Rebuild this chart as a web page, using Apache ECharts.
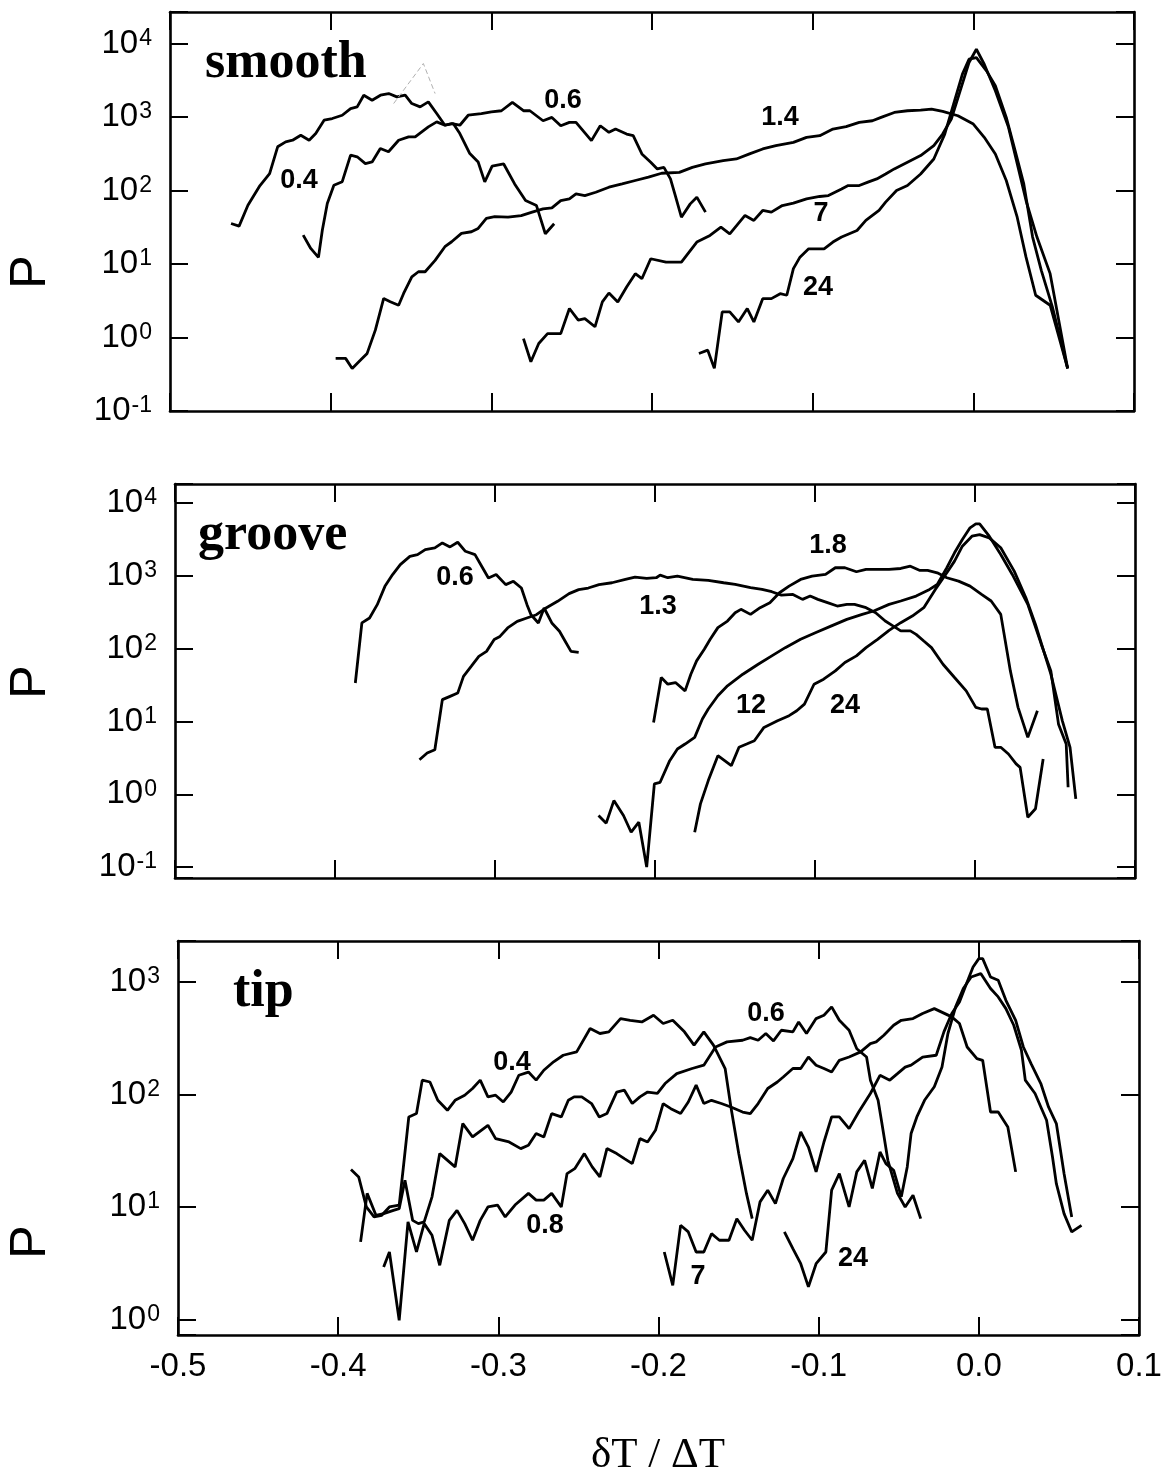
<!DOCTYPE html>
<html>
<head>
<meta charset="utf-8">
<script src="https://cdn.jsdelivr.net/npm/echarts@6/dist/echarts.min.js"></script>
<style>
  html, body { margin: 0; padding: 0; background: #fff; }
  #chart { width: 1167px; height: 1479px; }
</style>
</head>
<body>
<div id="chart"></div>
<script>
// Distributions P of the temperature deviation dT/DT for three surface
// types (smooth, groove, tip); each curve is one value of the control parameter.

const X_TICK_VALUES = [-0.5, -0.4, -0.3, -0.2, -0.1, 0.0, 0.1];

// ---------- smooth ----------
const smooth_04 = [[-0.462,35.6],[-0.457,32.8],[-0.4515,63.1],[-0.444,117],[-0.438,170],[-0.433,394],[-0.428,460],[-0.4237,484],[-0.4186,566],[-0.4134,484],[-0.4093,597],[-0.4041,906],[-0.399,955],[-0.3928,1059],[-0.3876,1306],[-0.3835,1377],[-0.3794,1982],[-0.3742,1694],[-0.369,1982],[-0.3639,2089],[-0.3588,1884],[-0.3536,1982],[-0.3495,1528],[-0.3443,1377],[-0.3392,1611],[-0.334,1117],[-0.3289,774],[-0.3237,817],[-0.3196,597],[-0.3134,319],[-0.3082,245],[-0.3041,131],[-0.2995,215],[-0.2923,230],[-0.2855,123],[-0.2787,73.1],[-0.2719,62.5],[-0.2664,25.8],[-0.2609,35.3]];
const smooth_06 = [[-0.4171,24.7],[-0.4124,16.3],[-0.4076,12.3],[-0.4052,28.8],[-0.4021,66.7],[-0.398,118],[-0.3928,132],[-0.3876,303],[-0.3835,288],[-0.3784,233],[-0.3742,245],[-0.3691,373],[-0.364,337],[-0.3577,484],[-0.3515,538],[-0.3474,538],[-0.3392,736],[-0.334,861],[-0.3289,774],[-0.3247,817],[-0.3196,774],[-0.3144,1059],[-0.3062,1117],[-0.3,1175],[-0.2937,1219],[-0.2869,1581],[-0.28,1219],[-0.276,1219],[-0.2678,891],[-0.2623,989],[-0.2568,762],[-0.2514,847],[-0.2473,847],[-0.2377,478],[-0.2322,762],[-0.2268,619],[-0.2227,687],[-0.2158,587],[-0.2117,558],[-0.2063,315],[-0.2008,243],[-0.1967,197],[-0.1926,207],[-0.1885,144],[-0.1858,90.2],[-0.1817,43.4],[-0.1762,65.9],[-0.1721,81.3],[-0.1667,50.8]];
const smooth_14 = [[-0.3969,0.52],[-0.3907,0.52],[-0.3866,0.38],[-0.3814,0.493],[-0.3773,0.608],[-0.3722,1.26],[-0.367,3.4],[-0.3629,3.07],[-0.3577,2.75],[-0.3546,3.98],[-0.3495,6.71],[-0.3454,7.85],[-0.3412,7.85],[-0.335,11.2],[-0.3289,17.2],[-0.3247,20.1],[-0.3186,26.1],[-0.3124,27.5],[-0.3082,30.5],[-0.3031,41.7],[-0.2979,44.1],[-0.2896,43.4],[-0.2814,45.7],[-0.2746,50.8],[-0.2678,56.4],[-0.2623,58.2],[-0.2568,73.1],[-0.2514,77.1],[-0.2473,90.2],[-0.2418,85.5],[-0.235,94.8],[-0.2268,111],[-0.2186,123],[-0.2104,137],[-0.2022,152],[-0.194,172],[-0.183,177],[-0.1749,207],[-0.1667,230],[-0.1557,255],[-0.1475,269],[-0.1393,315],[-0.1311,368],[-0.1229,408],[-0.112,453],[-0.1038,530],[-0.0956,558],[-0.0874,687],[-0.0792,740],[-0.071,847],[-0.0628,891],[-0.0574,989],[-0.0492,1156],[-0.041,1219],[-0.0328,1245],[-0.026,1285],[-0.0191,1194],[-0.0096,1042],[0.0,804],[0.0068,530],[0.0137,315],[0.0205,137],[0.0273,43.4],[0.0328,12.4],[0.0388,3.76],[0.0478,2.75],[0.0587,0.38]];
const smooth_7 = [[-0.28,0.968],[-0.2754,0.468],[-0.2705,0.83],[-0.265,1.13],[-0.2568,1.13],[-0.2514,2.48],[-0.2459,1.72],[-0.2418,1.81],[-0.2355,1.40],[-0.2309,3.05],[-0.2268,4.04],[-0.2213,3.05],[-0.2158,4.88],[-0.2104,7.4],[-0.2063,6.31],[-0.2008,11.8],[-0.1913,10.6],[-0.1817,10.6],[-0.1721,19.9],[-0.1639,24.5],[-0.1571,31.8],[-0.1516,25.8],[-0.1421,45.8],[-0.1366,39.2],[-0.1311,53.6],[-0.1257,50.8],[-0.1189,62.5],[-0.112,67.3],[-0.1038,77.1],[-0.0956,83],[-0.0902,85.5],[-0.082,105],[-0.0779,117],[-0.071,117],[-0.0656,130],[-0.0601,144],[-0.0546,168],[-0.0492,197],[-0.041,243],[-0.0328,299],[-0.0246,408],[-0.0191,587],[-0.0137,940],[-0.0082,2275],[-0.0027,5521],[0.0019,8375],[0.0068,5236],[0.0137,2275],[0.0219,724],[0.0328,73.1],[0.0396,23.3],[0.0478,7.4],[0.0587,0.38]];
const smooth_24 = [[-0.1708,0.607],[-0.1653,0.673],[-0.1612,0.38],[-0.1563,2.23],[-0.1516,2.23],[-0.1462,1.63],[-0.1407,2.48],[-0.1366,1.63],[-0.1311,3.38],[-0.1257,3.38],[-0.1202,3.95],[-0.1161,3.76],[-0.112,8.65],[-0.1079,12.4],[-0.1025,16.1],[-0.0929,16.1],[-0.0874,19.9],[-0.082,23.3],[-0.0724,28.6],[-0.0669,39.2],[-0.0587,53.6],[-0.0546,69.5],[-0.0478,100],[-0.041,117],[-0.0328,168],[-0.0246,269],[-0.0178,587],[-0.0123,1500],[-0.0068,3837],[-0.0027,6124],[0.0019,6457],[0.0082,4256],[0.0137,2661],[0.0205,989],[0.026,349],[0.0314,123],[0.0369,23.3],[0.0423,8.2],[0.0492,2.61],[0.0587,0.38]];
const smooth_faint = [[-0.3608,1528],[-0.3423,5350],[-0.335,2090]];

// ---------- groove ----------
const groove_06 = [[-0.3873,33.7],[-0.3832,225],[-0.3784,263],[-0.3736,401],[-0.3688,716],[-0.364,1038],[-0.3592,1422],[-0.3532,1849],[-0.3484,1950],[-0.3436,2286],[-0.3376,2410],[-0.3329,2825],[-0.3281,2489],[-0.3233,2884],[-0.3185,2168],[-0.3125,1950],[-0.3077,1279],[-0.3041,933],[-0.2993,1038],[-0.2933,755],[-0.2885,839],[-0.2835,679],[-0.28,401],[-0.2775,292],[-0.2729,225],[-0.2693,361],[-0.2645,225],[-0.2597,173],[-0.2573,140],[-0.2525,91.6],[-0.2477,88.9]];
const groove_13 = [[-0.3472,2.98],[-0.3424,3.68],[-0.3376,4.09],[-0.3329,19.9],[-0.3281,22.1],[-0.3233,24.5],[-0.3197,41.6],[-0.3149,57],[-0.3101,78.3],[-0.3053,91.6],[-0.3005,133],[-0.2969,147],[-0.2921,192],[-0.2861,237],[-0.2801,263],[-0.2741,292],[-0.2681,361],[-0.2609,446],[-0.2537,569],[-0.2477,646],[-0.2417,679],[-0.235,755],[-0.2269,802],[-0.2185,891],[-0.2125,959],[-0.2052,918],[-0.1992,940],[-0.1968,1021],[-0.192,940],[-0.186,989],[-0.1764,891],[-0.1667,863],[-0.1571,802],[-0.1499,760],[-0.1403,685],[-0.1331,650],[-0.127,604],[-0.121,543],[-0.1138,555],[-0.1078,474],[-0.103,526],[-0.0982,474],[-0.0922,427],[-0.0861,384],[-0.0801,405],[-0.0753,405],[-0.0681,365],[-0.0621,311],[-0.0561,239],[-0.0513,205],[-0.0464,175],[-0.0404,175],[-0.0368,157],[-0.032,127],[-0.0272,103],[-0.02,61],[-0.0128,40.1],[-0.0055,26.3],[0.0005,15.6],[0.0041,14.8],[0.0077,14.8],[0.0125,4.41],[0.0161,4.41],[0.0209,3.57],[0.0257,2.61],[0.0282,2.34],[0.033,0.484],[0.0378,0.631],[0.0426,3.05]];
const groove_18 = [[-0.2009,9.68],[-0.1961,40.1],[-0.192,32.4],[-0.1872,34.2],[-0.1812,26.3],[-0.1776,44.5],[-0.174,67.8],[-0.1692,98],[-0.1655,134],[-0.1607,194],[-0.1547,239],[-0.1499,311],[-0.1463,346],[-0.1403,295],[-0.1343,365],[-0.1282,427],[-0.1222,585],[-0.1162,721],[-0.109,891],[-0.1018,989],[-0.0934,1042],[-0.0873,1288],[-0.0813,1288],[-0.0741,1135],[-0.0681,1222],[-0.0609,1222],[-0.0537,1222],[-0.0464,1259],[-0.0404,1355],[-0.0344,1183],[-0.0296,1183],[-0.0236,1099],[-0.0176,940],[-0.0103,845],[-0.0031,721],[0.0041,555],[0.0101,450],[0.0161,295],[0.0221,49.4],[0.0269,15.6],[0.033,6.04],[0.039,14]];
const groove_12 = [[-0.2353,0.511],[-0.2305,0.401],[-0.2257,0.818],[-0.2197,0.511],[-0.2149,0.301],[-0.2101,0.413],[-0.2052,0.1],[-0.2004,1.39],[-0.1968,1.46],[-0.1908,2.89],[-0.186,4.18],[-0.1812,4.89],[-0.1752,6.04],[-0.1704,10.8],[-0.1667,14.8],[-0.1607,22.5],[-0.1547,30.8],[-0.1451,44.5],[-0.1355,61],[-0.127,79.4],[-0.1186,103],[-0.109,134],[-0.0994,166],[-0.0897,205],[-0.0801,252],[-0.0705,295],[-0.0633,328],[-0.0537,405],[-0.0464,450],[-0.0368,526],[-0.0284,650],[-0.0236,760],[-0.0176,1288],[-0.0128,2065],[-0.0079,3148],[-0.0031,4550],[0.0005,5152],[0.0029,5152],[0.0089,3491],[0.0161,1959],[0.0233,1042],[0.033,405],[0.0414,115],[0.0474,49.4],[0.0522,9.18],[0.057,4.89],[0.0582,1.25]];
const groove_24 = [[-0.1752,0.301],[-0.1716,0.738],[-0.1667,1.54],[-0.1607,3.39],[-0.1523,2.47],[-0.1475,4.41],[-0.1427,4.89],[-0.1379,5.43],[-0.1319,8.28],[-0.1234,10.2],[-0.1162,12],[-0.1114,14],[-0.1066,17.3],[-0.1006,32.4],[-0.0946,38],[-0.0873,49.4],[-0.0813,64.3],[-0.0741,79.4],[-0.0681,103],[-0.0609,134],[-0.0537,178],[-0.0464,227],[-0.0392,280],[-0.032,365],[-0.0248,650],[-0.0176,1099],[-0.0128,1589],[-0.0079,2547],[-0.0019,3491],[0.0029,3681],[0.0089,3319],[0.0161,2421],[0.0245,1159],[0.0318,500],[0.0378,215],[0.0474,44.5],[0.0546,10.2],[0.0594,4.41],[0.063,0.863]];

// ---------- tip ----------
const tip_04 = [[-0.392,21.5],[-0.3872,18.5],[-0.3824,10],[-0.3776,8.15],[-0.3728,8.43],[-0.368,10],[-0.3619,10.4],[-0.3595,21.2],[-0.3559,63.1],[-0.3511,67.6],[-0.3475,134],[-0.3427,129],[-0.3378,88.7],[-0.3318,72.3],[-0.327,88.7],[-0.321,98.4],[-0.3161,113],[-0.3113,134],[-0.3065,95.1],[-0.3017,98.4],[-0.2969,85.7],[-0.292,105],[-0.2872,148],[-0.2812,158],[-0.2764,134],[-0.2716,164],[-0.2655,195],[-0.2595,223],[-0.2511,239],[-0.2427,385],[-0.2366,348],[-0.231,360],[-0.2237,472],[-0.2177,456],[-0.2104,441],[-0.2031,506],[-0.1971,427],[-0.1911,456],[-0.1838,360],[-0.1778,274],[-0.1717,360],[-0.1657,274],[-0.1584,170],[-0.1548,77.4],[-0.1499,29.8],[-0.1451,13.2],[-0.1415,7.87]];
const tip_06 = [[-0.386,4.89],[-0.3819,13.2],[-0.3764,8.43],[-0.3716,8.73],[-0.3655,9.33],[-0.3619,9.66],[-0.3583,17.3],[-0.3535,7.6],[-0.3499,7.11],[-0.3463,7.36],[-0.3414,12.3],[-0.3366,29.8],[-0.327,22.7],[-0.3222,55.1],[-0.3161,41.9],[-0.3065,53.2],[-0.3017,40.5],[-0.2933,37.8],[-0.286,33],[-0.2812,35.3],[-0.2764,44.9],[-0.2716,41.9],[-0.2667,67.6],[-0.2607,63.1],[-0.2563,88.7],[-0.2527,95.1],[-0.2479,95.1],[-0.2418,83],[-0.237,63.1],[-0.2322,67.6],[-0.2261,105],[-0.2213,109],[-0.2164,83],[-0.2116,95.1],[-0.2068,105],[-0.2007,102],[-0.1959,125],[-0.1886,153],[-0.179,170],[-0.1717,182],[-0.1644,264],[-0.1572,293],[-0.1475,303],[-0.1427,320],[-0.1378,303],[-0.133,348],[-0.1282,299],[-0.1233,372],[-0.1161,360],[-0.1125,441],[-0.1076,348],[-0.1016,472],[-0.0967,506],[-0.0919,600],[-0.0871,456],[-0.081,372],[-0.0762,255],[-0.0701,215],[-0.0677,134],[-0.0629,88.7],[-0.0605,55.1],[-0.0568,26],[-0.0508,13.2],[-0.046,10],[-0.0411,12.7],[-0.0363,7.87]];
const tip_08 = [[-0.3716,2.93],[-0.368,3.98],[-0.3619,0.984],[-0.3564,7.36],[-0.3511,3.98],[-0.3463,7.11],[-0.3414,5.6],[-0.3366,3.03],[-0.3306,7.6],[-0.3258,9.33],[-0.321,7.11],[-0.3161,5.06],[-0.3113,7.6],[-0.3065,10],[-0.3005,10.4],[-0.2957,8.15],[-0.2896,10.4],[-0.2812,13.2],[-0.2764,11.5],[-0.2716,11.5],[-0.2667,13.2],[-0.2607,10],[-0.2571,19.8],[-0.2523,21.9],[-0.2463,29.8],[-0.2414,22.7],[-0.2366,18.5],[-0.2322,33],[-0.2261,29.8],[-0.2213,26.9],[-0.2164,24.3],[-0.2116,40.5],[-0.2068,37.8],[-0.2019,48],[-0.1971,83],[-0.1923,74.8],[-0.1862,67.6],[-0.1814,85.7],[-0.1765,121],[-0.1717,83],[-0.1669,88.7],[-0.1608,83],[-0.1548,77.4],[-0.1475,69.8],[-0.1427,67.6],[-0.1378,83],[-0.1318,113],[-0.1258,129],[-0.1221,143],[-0.1161,170],[-0.1112,170],[-0.1064,215],[-0.1016,182],[-0.0967,170],[-0.0919,158],[-0.0871,201],[-0.081,215],[-0.0738,239],[-0.0677,283],[-0.0641,293],[-0.0593,336],[-0.0532,412],[-0.0484,456],[-0.0411,472],[-0.0351,524],[-0.0278,579],[-0.0169,489],[-0.0121,427],[-0.0073,264],[-0.0012,208],[0.0024,201],[0.0073,69.8],[0.0121,69.8],[0.0181,51.4],[0.023,20.5]];
const tip_7 = [[-0.1964,3.98],[-0.1911,2.01],[-0.1862,6.87],[-0.1814,6],[-0.1765,3.98],[-0.1717,3.98],[-0.1669,5.79],[-0.162,5.06],[-0.156,5.06],[-0.1511,7.87],[-0.1463,6.21],[-0.1415,5.06],[-0.1366,11.1],[-0.1318,14.1],[-0.127,10.7],[-0.1221,17.9],[-0.1161,26.9],[-0.1112,46.5],[-0.1064,34.1],[-0.1016,20.5],[-0.0967,37.8],[-0.0919,63.1],[-0.0871,63.1],[-0.081,49.7],[-0.075,69.8],[-0.0677,102],[-0.0617,148],[-0.0556,134],[-0.0508,153],[-0.046,175],[-0.0423,182],[-0.0351,215],[-0.0266,223],[-0.0218,360],[-0.0169,524],[-0.0121,664],[-0.0073,1000],[-0.0036,1358],[0.0,1611],[0.0024,1611],[0.0073,1107],[0.0121,1035],[0.0169,687],[0.023,456],[0.0278,264],[0.0326,188],[0.0387,125],[0.0435,77.4],[0.0484,55.1],[0.0532,19.8],[0.058,8.15]];
const tip_24 = [[-0.1214,6],[-0.1161,4.27],[-0.1112,3.13],[-0.1064,1.95],[-0.1016,3.13],[-0.0955,3.98],[-0.0919,14.1],[-0.0871,19.8],[-0.081,10],[-0.0762,20.5],[-0.0713,26],[-0.0665,14.6],[-0.0617,30.8],[-0.058,24.3],[-0.0532,21.2],[-0.0484,12.3],[-0.0447,22.7],[-0.0423,44.9],[-0.0387,63.1],[-0.0339,88.7],[-0.0278,117],[-0.023,175],[-0.0193,348],[-0.0145,600],[-0.0097,873],[-0.0048,1107],[0.0012,1186],[0.0073,873],[0.0121,736],[0.0169,579],[0.0218,412],[0.0266,247],[0.029,134],[0.0351,102],[0.0387,77.4],[0.0423,58.9],[0.046,27.8],[0.0484,16.1],[0.0532,8.73],[0.058,6],[0.0641,6.87]];

// curve names written next to the curves
const smoothNames = ['0.4', '0.6', '1.4', '7', '24'];
const grooveNames = ['0.6', '1.3', '1.8', '12', '24'];
const tipNames    = ['0.4', '0.6', '0.8', '7', '24'];
const panelNames  = ['smooth', 'groove', 'tip'];

const SANS = '"Liberation Sans", Arial, Helvetica, sans-serif';
const SERIF = '"Liberation Serif", "Times New Roman", Times, serif';

// layout of the three stacked plots
const panels = [
  { grid: { left: 170, top: 12,  width: 964, height: 399 }, yMin: 0.1,    yMax: 26900, showX: false,
    curves: [smooth_04, smooth_06, smooth_14, smooth_7, smooth_24],
    names: smoothNames, namePos: [[299,181],[563,101],[780,118],[821,214],[818,288]],
    title: [205, 64], pY: 272 },
  { grid: { left: 175, top: 484, width: 960, height: 394 }, yMin: 0.0708, yMax: 18200, showX: false,
    curves: [groove_06, groove_13, groove_18, groove_12, groove_24],
    names: grooveNames, namePos: [[455,578],[658,607],[828,546],[751,706],[845,706]],
    title: [198, 536], pY: 682 },
  { grid: { left: 178, top: 941, width: 961, height: 394 }, yMin: 0.728,  yMax: 2310, showX: true,
    curves: [tip_04, tip_06, tip_08, tip_7, tip_24],
    names: tipNames, namePos: [[512,1063],[766,1014],[545,1226],[698,1277],[853,1259]],
    title: [233, 993], pY: 1242 }
];

function powerLabel(v) {
  const e = Math.log10(v);
  const r = Math.round(e);
  if (Math.abs(e - r) > 1e-6) return '';
  return '{b|10}{s|' + r + '}';
}
function xLabel(v) {
  if (Math.abs(v) < 1e-9) return '0.0';
  return v.toFixed(1);
}

const frameLine = { show: true, onZero: false, lineStyle: { color: '#000', width: 2.6 } };
const innerTick = { show: true, inside: true, length: 18, lineStyle: { color: '#000', width: 2 } };

const grids = [], xAxes = [], yAxes = [], series = [], graphics = [];

panels.forEach((p, i) => {
  grids.push(Object.assign({ containLabel: false, show: false }, p.grid));

  const xBase = {
    gridIndex: i, type: 'value', min: -0.5, max: 0.1, interval: 0.1,
    splitLine: { show: false }, axisLine: frameLine, axisTick: innerTick
  };
  xAxes.push(Object.assign({}, xBase, {
    position: 'bottom',
    axisLabel: { show: p.showX, formatter: xLabel, fontFamily: SANS, fontSize: 33, color: '#000', margin: 15 }
  }));
  xAxes.push(Object.assign({}, xBase, { position: 'top', axisLabel: { show: false } }));

  const yBase = {
    gridIndex: i, type: 'log', logBase: 10, min: p.yMin, max: p.yMax,
    splitLine: { show: false }, minorTick: { show: false }, minorSplitLine: { show: false },
    axisLine: frameLine, axisTick: innerTick
  };
  yAxes.push(Object.assign({}, yBase, {
    position: 'left',
    axisLabel: {
      formatter: powerLabel, margin: 18, color: '#000',
      rich: {
        b: { fontFamily: SANS, fontSize: 33, lineHeight: 33, color: '#000', verticalAlign: 'bottom' },
        s: { fontFamily: SANS, fontSize: 23, lineHeight: 23, color: '#000', verticalAlign: 'top', padding: [0, 0, 14, 1] }
      }
    }
  }));
  yAxes.push(Object.assign({}, yBase, { position: 'right', axisLabel: { show: false } }));

  p.curves.forEach((d) => {
    series.push({
      type: 'line', xAxisIndex: 2 * i, yAxisIndex: 2 * i, data: d,
      showSymbol: false, symbol: 'none', silent: true,
      lineStyle: { color: '#000', width: 2.8 }
    });
  });

  p.names.forEach((t, k) => {
    graphics.push({
      type: 'text', x: p.namePos[k][0], y: p.namePos[k][1], silent: true,
      style: { text: t, font: 'bold 27px ' + SANS, fill: '#000',
               align: 'center', verticalAlign: 'middle', textAlign: 'center', textVerticalAlign: 'middle' }
    });
  });

  graphics.push({
    type: 'text', x: p.title[0], y: p.title[1], silent: true,
    style: { text: panelNames[i], font: 'bold 52px ' + SERIF, fill: '#000',
             align: 'left', verticalAlign: 'middle', textAlign: 'left', textVerticalAlign: 'middle' }
  });

  graphics.push({
    type: 'text', x: 31, y: p.pY, rotation: Math.PI / 2, silent: true,
    style: { text: 'P', font: '50px ' + SANS, fill: '#000',
             align: 'center', verticalAlign: 'middle', textAlign: 'center', textVerticalAlign: 'middle' }
  });
});

// faint pencil-like trace above the smooth peak
series.push({
  type: 'line', xAxisIndex: 0, yAxisIndex: 0, data: smooth_faint,
  showSymbol: false, symbol: 'none', silent: true,
  lineStyle: { color: '#b0b0b0', width: 1, type: [5, 3] }
});

// x-axis quantity
graphics.push({
  type: 'text', x: 658, y: 1456, silent: true,
  style: { text: 'δT / ΔT', font: '43px ' + SERIF, fill: '#000',
           align: 'center', verticalAlign: 'middle', textAlign: 'center', textVerticalAlign: 'middle' }
});

const chart = echarts.init(document.getElementById('chart'), null, { renderer: 'canvas' });
chart.setOption({
  backgroundColor: '#fff',
  animation: false,
  grid: grids,
  xAxis: xAxes,
  yAxis: yAxes,
  series: series,
  graphic: graphics
});
</script>
</body>
</html>
